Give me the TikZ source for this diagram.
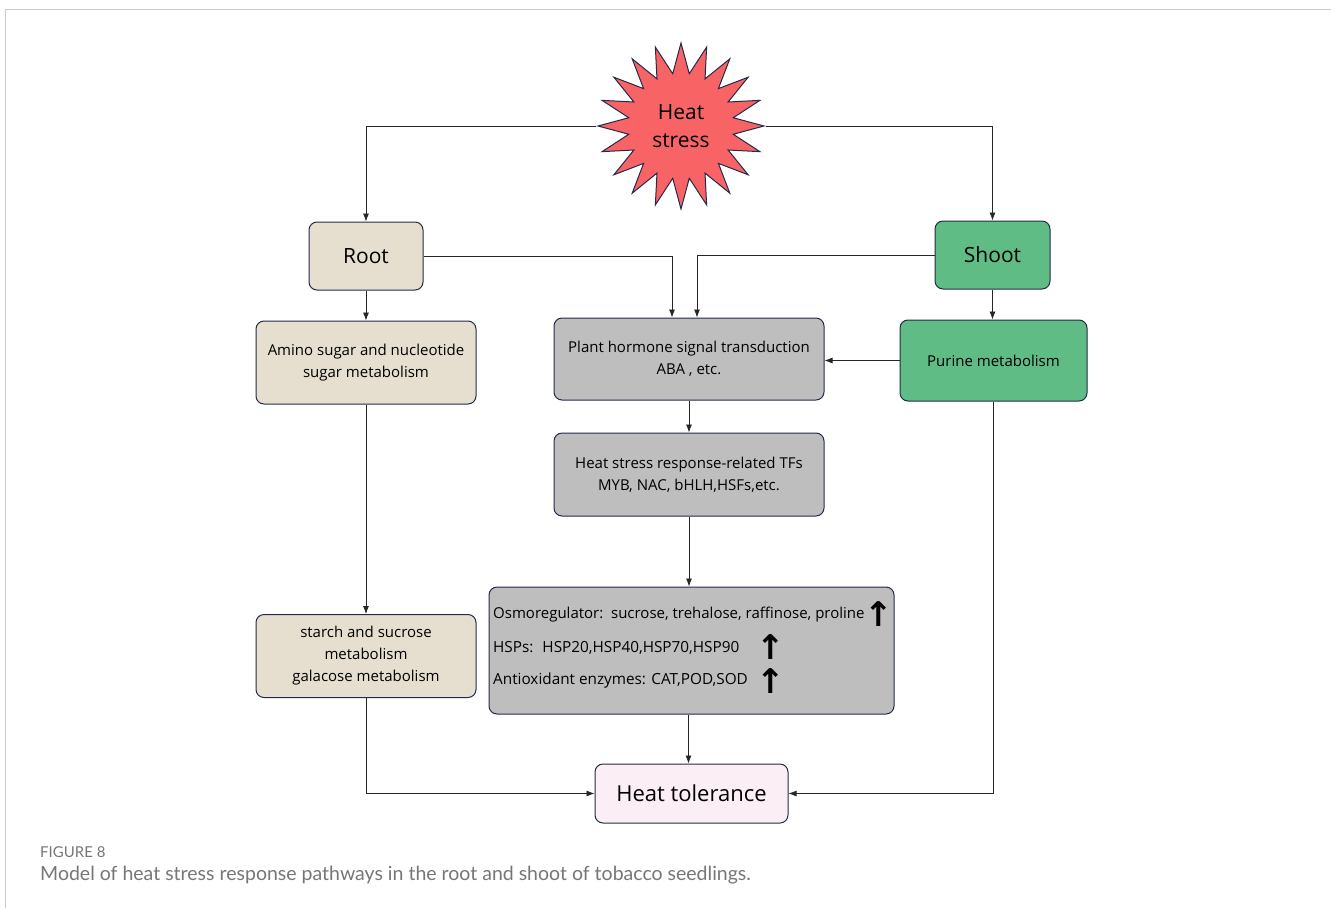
\documentclass[tikz,border=0pt]{standalone}
\usepackage{fontspec}
\setmainfont{Open Sans}
\newfontfamily\capfont{Lato}
\newfontfamily\symfont{DejaVu Sans}
\usetikzlibrary{shapes.geometric,arrows.meta}

\definecolor{rootfill}{HTML}{E6DFD0}
\definecolor{shootfill}{HTML}{5FBC85}
\definecolor{greyfill}{HTML}{BEBEBE}
\definecolor{tolfill}{HTML}{FBEEF4}
\definecolor{starfill}{HTML}{F86466}
\definecolor{edgeblue}{HTML}{232B4A}
\definecolor{framegrey}{HTML}{CACACA}
\definecolor{capgrey}{HTML}{767676}

\begin{document}
\begin{tikzpicture}[
        x=1pt, y=-1pt,
        >={Latex[length=8pt,width=6pt]},
        box/.style={draw=edgeblue, line width=1pt, rounded corners=8pt, align=center, inner sep=0pt},
        bigtext/.style={font=\fontsize{21}{28}\selectfont},
        smalltext/.style={font=\fontsize{15}{22}\selectfont},
        listtext/.style={font=\fontsize{15.3}{22}\selectfont, anchor=west, inner sep=0pt},
        uparrow/.style={font=\symfont\bfseries\fontsize{34}{34}\selectfont, inner sep=0pt},
        line/.style={->, line width=0.8pt, black!85}
        ]
        \useasboundingbox (0,0) rectangle (1331,908);
        % frame
        \draw[framegrey, line width=1pt] (5,908) -- (5,9.5) -- (1331,9.5);

        \node[star, star points=20, star point ratio=1.57, minimum size=166pt, inner sep=0pt,
              draw=edgeblue, line width=1pt, fill=starfill, align=center, bigtext] (heat) at (681,126) {Heat\\stress};

        \node[box, fill=rootfill, minimum width=114pt, minimum height=68pt, bigtext] (root) at (366,256) {Root};
        \node[box, fill=shootfill, minimum width=115pt, minimum height=68pt, bigtext] (shoot) at (992.5,255) {Shoot};

        \node[box, fill=rootfill, minimum width=220pt, minimum height=83pt, smalltext] (amino) at (366,362.5) {Amino sugar and nucleotide\\sugar metabolism};
        \node[box, fill=greyfill, minimum width=270pt, minimum height=82pt, smalltext] (hormone) at (689,359) {Plant hormone signal transduction\\ABA , etc.};
        \node[box, fill=shootfill, minimum width=187pt, minimum height=81pt, smalltext] (purine) at (993.5,360.5) {Purine metabolism};
        \node[box, fill=greyfill, minimum width=270pt, minimum height=83pt, smalltext] (tfs) at (689,474.5) {Heat stress response-related TFs\\MYB, NAC, bHLH,HSFs,etc.};

        \node[box, fill=greyfill, minimum width=405pt, minimum height=127pt] (effect) at (691.5,650.5) {};
        \node[listtext, font=\fontsize{15}{22}\selectfont] (osmo) at (493,615) {Osmoregulator:\ \ sucrose, trehalose, raffinose, proline};
        \node[listtext] (hsp) at (493,648) {HSPs:\hspace{9pt}HSP20,HSP40,HSP70,HSP90};
        \node[listtext] (antiox) at (493,681) {Antioxidant enzymes: CAT,POD,SOD};
        \node[uparrow] (uposmo) at (879,614) {↑};
        \node[uparrow] (uphsp) at (771,647) {↑};
        \node[uparrow] (upantiox) at (771,681) {↑};

        \node[box, fill=rootfill, minimum width=220pt, minimum height=83pt, smalltext] (starch) at (366,656) {starch and sucrose\\metabolism\\galacose metabolism};
        \node[box, fill=tolfill, minimum width=193pt, minimum height=59pt, font=\fontsize{22}{28}\selectfont] (tol) at (691.5,793.5) {Heat tolerance};

        % connectors
        \draw[line] (heat.west) -| (root.north);
        \draw[line] (heat.east) -| (shoot.north);
        \draw[line] (root.east) -| ([xshift=-17pt]hormone.north);
        \draw[line] (shoot.west) -| ([xshift=8pt]hormone.north);
        \draw[line] (root) -- (amino);
        \draw[line] (shoot.south) -- (shoot.south |- purine.north);
        \draw[line] (purine.west) -- (hormone.east |- purine.west);
        \draw[line] (hormone) -- (tfs);
        \draw[line] (tfs.south) -- (tfs.south |- effect.north);
        \draw[line] (amino) -- (starch);
        \draw[line] (starch.south) |- (tol.west);
        \draw[line] ([xshift=-3pt]effect.south) -- ([xshift=-3pt]effect.south |- tol.north);
        \draw[line] (purine.south) |- (tol.east);

        % caption
        \node[anchor=west, inner sep=0pt, text=capgrey, font=\capfont\fontsize{15}{17}\selectfont] (figno) at (40,852) {FIGURE 8};
        \node[anchor=west, inner sep=0pt, text=capgrey, font=\capfont\fontsize{19.5}{23}\selectfont] (caption) at (40,875) {Model of heat stress response pathways in the root and shoot of tobacco seedlings.};
\end{tikzpicture}
\end{document}
